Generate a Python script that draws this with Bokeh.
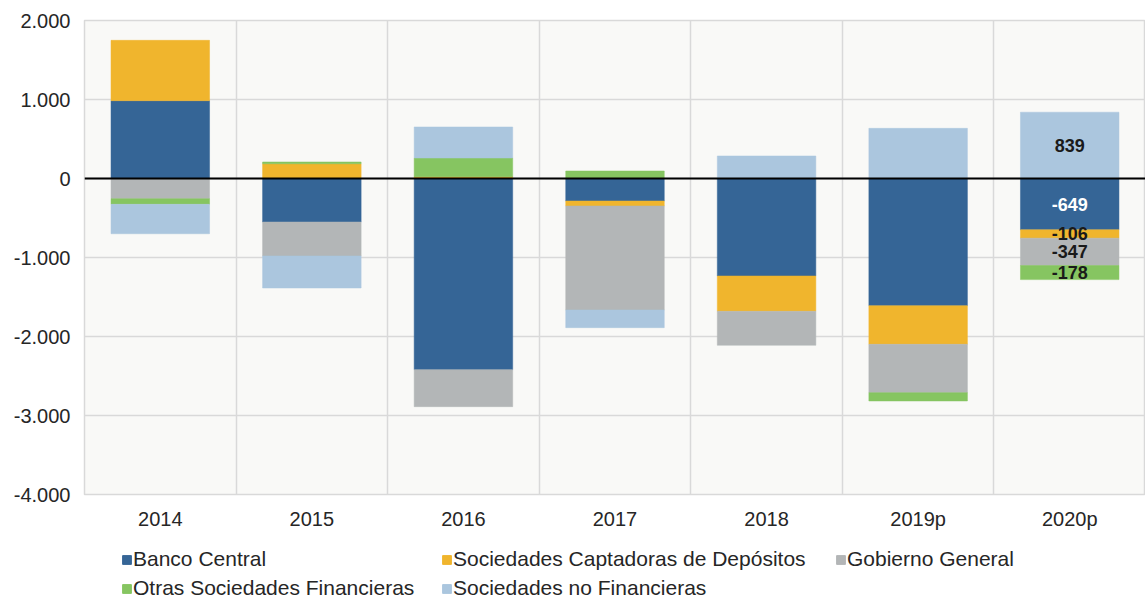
import numpy as np
from bokeh.plotting import figure
from bokeh.layouts import column
from bokeh.models import FactorRange, Range1d, FixedTicker, Span, Legend, LegendItem, ColumnDataSource
from bokeh.core.properties import value
from bokeh.embed import file_html
from bokeh.resources import INLINE

categories = ["2014", "2015", "2016", "2017", "2018", "2019p", "2020p"]
banco_central = [985, -551, -2420, -285, -1234, -1610, -649]
soc_captadoras = [764, 187, 23, -63, -447, -489, -106]
gobierno_general = [-256, -430, -468, -1317, -430, -612, -347]
otras_soc_fin = [-71, 22, 236, 95, 0, -105, -178]
soc_no_fin = [-372, -405, 393, -223, 285, 635, 839]

series_names = ["Banco Central", "Sociedades Captadoras de Depósitos", "Gobierno General",
                "Otras Sociedades Financieras", "Sociedades no Financieras"]
series_values = [banco_central, soc_captadoras, gobierno_general, otras_soc_fin, soc_no_fin]
colors = ["#356596", "#f0b52d", "#b3b6b7", "#86c561", "#abc6de"]
label_colors = ["white", "#1a1a1a", "#1a1a1a", "#1a1a1a", "#1a1a1a"]

y_ticks = [-4000, -3000, -2000, -1000, 0, 1000, 2000]
y_tick_labels = ["-4.000", "-3.000", "-2.000", "-1.000", "0", "1.000", "2.000"]

FONT = "Liberation Sans"
TXT = "#262626"

p = figure(x_range=FactorRange(*categories), y_range=Range1d(-4000, 2000),
           width=1145, height=536, output_backend="svg", toolbar_location=None,
           min_border_left=84, min_border_right=0, min_border_top=20, min_border_bottom=42)
p.background_fill_color = "#f9f9f7"
p.border_fill_color = "white"
p.outline_line_color = "#d9d9d9"
p.outline_line_width = 1.5

# stacking: positives and negatives separately
pos_base = np.zeros(len(categories))
neg_base = np.zeros(len(categories))
segments = []
for name, vals, col in zip(series_names, series_values, colors):
    v = np.array(vals, dtype=float)
    bottom = np.where(v >= 0, pos_base, neg_base)
    top = bottom + v
    pos_base = np.where(v >= 0, top, pos_base)
    neg_base = np.where(v < 0, top, neg_base)
    src = ColumnDataSource(dict(x=categories, bottom=bottom, top=top))
    p.vbar(x="x", bottom="bottom", top="top", width=0.65, source=src,
           fill_color=col, line_color=col, line_width=0.5)
    segments.append((bottom, top))

# data labels for the last category
last = len(categories) - 1
lx, ly, lt, lc = [], [], [], []
for (bottom, top), vals, tc in zip(segments, series_values, label_colors):
    if vals[last] != 0:
        lx.append(categories[last])
        ly.append((bottom[last] + top[last]) / 2)
        lt.append(str(vals[last]))
        lc.append(tc)
p.text(x=lx, y=ly, text=lt, text_color=lc, text_align="center", text_baseline="middle",
       text_font=value(FONT), text_font_style="bold", text_font_size="18px")

p.add_layout(Span(location=0, dimension="width", line_color="black", line_width=2))

# grids
p.xgrid.ticker = FixedTicker(ticks=list(range(len(categories) + 1)))
p.xgrid.grid_line_color = "#d9d9d9"
p.xgrid.grid_line_width = 1.5
p.ygrid.ticker = FixedTicker(ticks=y_ticks)
p.ygrid.grid_line_color = "#d9d9d9"
p.ygrid.grid_line_width = 1.5

# axes
p.yaxis.ticker = FixedTicker(ticks=y_ticks)
p.yaxis.major_label_overrides = {t: l for t, l in zip(y_ticks, y_tick_labels)}
for ax in (p.xaxis[0], p.yaxis[0]):
    ax.axis_line_color = None
    ax.major_tick_line_color = None
    ax.minor_tick_line_color = None
    ax.major_tick_out = 0
    ax.major_tick_in = 0
    ax.major_label_text_font = FONT
    ax.major_label_text_font_size = "20px"
    ax.major_label_text_color = TXT
p.yaxis.major_label_standoff = 14
p.xaxis.major_label_standoff = 13

# legend in a separate strip below the chart
pl = figure(width=1145, height=67, output_backend="svg", toolbar_location=None,
            x_range=Range1d(0, 1), y_range=Range1d(0, 1), x_axis_type=None, y_axis_type=None,
            min_border=0)
pl.outline_line_color = None
pl.grid.visible = False
# legend swatches (single points kept outside the visible range)
leg_renderers = [pl.vbar(x=[-5], top=[-5], width=0.5, fill_color=c, line_color=c) for c in colors]
items = [LegendItem(label=n, renderers=[r]) for n, r in zip(series_names, leg_renderers)]

legend_columns = [([0, 3], (37, 3)), ([1, 4], (357, 3)), ([2], (751, 32))]
for idx, loc in legend_columns:
    lg = Legend(items=[items[i] for i in idx], location=loc, padding=0, margin=0, spacing=5,
                label_standoff=1, glyph_width=11, glyph_height=11,
                label_text_font=FONT, label_text_font_size="21px", label_text_color=TXT,
                border_line_color=None, background_fill_alpha=0)
    pl.add_layout(lg, "center")

layout = column(p, pl, spacing=0)
open("out.html", "w").write(file_html(layout, INLINE))
